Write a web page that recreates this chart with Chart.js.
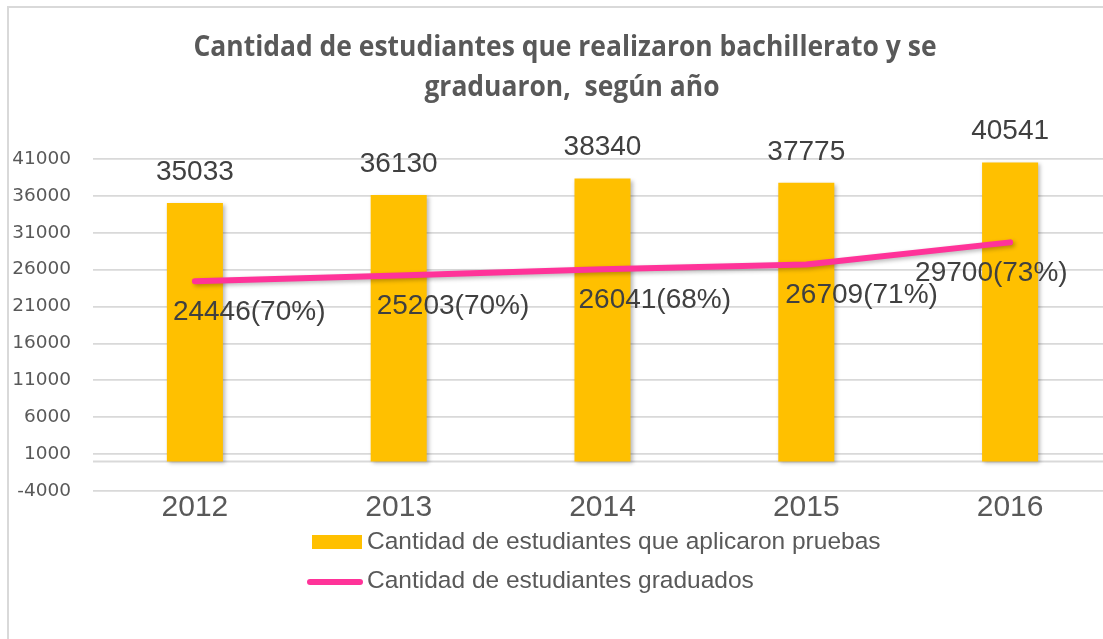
<!DOCTYPE html>
<html><head><meta charset="utf-8">
<script src="https://cdn.jsdelivr.net/npm/chart.js@4.4.1/dist/chart.umd.min.js"></script>
<style>
html,body{margin:0;padding:0;background:#fff;overflow:hidden;width:1103px;height:639px}
#wrap{position:relative;width:1116px;height:639px}
canvas{display:block}
</style></head><body><div id="wrap"><canvas id="c" width="1116" height="639"></canvas></div>
<script>
// ---- data ----
const years = ['2012', '2013', '2014', '2015', '2016'];
const applied = [35033, 36130, 38340, 37775, 40541];
const graduated = [24446, 25203, 26041, 26709, 29700];
const graduatedPct = [70, 70, 68, 71, 73];
const yTickLabels = ['-4000', '1000', '6000', '11000', '16000', '21000', '26000', '31000', '36000', '41000'];
const titleLines = ['Cantidad de estudiantes que realizaron bachillerato y se', 'graduaron,  según año'];
const seriesNames = ['Cantidad de estudiantes que aplicaron pruebas', 'Cantidad de estudiantes graduados'];

// ---- styles ----
const BAR_COLOR = '#FFC000';
const LINE_COLOR = '#FF3399';
const GRID_COLOR = '#D9D9D9';
const TEXT_GRAY = '#595959';
const LABEL_DARK = '#404040';
const lineLabelShiftX = [-22, -22, -24, -21, -95];

function fontExists(name) {
  const c = document.createElement('canvas').getContext('2d');
  const t = 'Cantidad de estudiantes abcxyz 0123';
  c.font = '40px "' + name + '", monospace'; const a = c.measureText(t).width;
  c.font = '40px "' + name + '", serif'; const b = c.measureText(t).width;
  return Math.abs(a - b) < 0.01;
}
const titleFamily = fontExists('Liberation Sans Narrow') ? '"Liberation Sans Narrow"' : '"Open Sans"';

const shadowPlugin = {
  id: 'shadow',
  beforeDatasetDraw(chart) {
    const ctx = chart.ctx;
    ctx.save();
    ctx.shadowColor = 'rgba(0,0,0,0.28)';
    ctx.shadowBlur = 4;
    ctx.shadowOffsetX = 2;
    ctx.shadowOffsetY = 2;
  },
  afterDatasetDraw(chart) { chart.ctx.restore(); }
};

const decorPlugin = {
  id: 'decor',
  beforeDatasetsDraw(chart) {
    const {ctx, chartArea, scales} = chart;
    const y0 = scales.y.getPixelForValue(0);
    ctx.save();
    ctx.strokeStyle = GRID_COLOR;
    ctx.lineWidth = 1.8;
    ctx.beginPath();
    ctx.moveTo(chartArea.left, y0);
    ctx.lineTo(chartArea.right, y0);
    ctx.stroke();
    ctx.restore();
  },
  afterDatasetsDraw(chart) {
    const ctx = chart.ctx;
    const barMeta = chart.getDatasetMeta(0);
    const lineMeta = chart.getDatasetMeta(1);
    ctx.save();
    ctx.font = '28px "Liberation Sans", Arial, sans-serif';
    ctx.fillStyle = LABEL_DARK;
    ctx.textBaseline = 'middle';
    ctx.textAlign = 'center';
    barMeta.data.forEach((el, i) => {
      ctx.fillText(String(applied[i]), el.x, el.y - 31);
    });
    ctx.textAlign = 'left';
    lineMeta.data.forEach((el, i) => {
      ctx.fillText(graduated[i] + '(' + graduatedPct[i] + '%)', el.x + lineLabelShiftX[i], el.y + 31);
    });
    ctx.restore();
  },
  afterDraw(chart) {
    const ctx = chart.ctx;
    ctx.save();
    // frame
    ctx.strokeStyle = GRID_COLOR;
    ctx.lineWidth = 2;
    ctx.beginPath();
    ctx.moveTo(8, 639);
    ctx.lineTo(8, 7);
    ctx.lineTo(1116, 7);
    ctx.stroke();
    // title (horizontally condensed to mimic a narrow bold face)
    ctx.fillStyle = TEXT_GRAY;
    ctx.textAlign = 'center';
    ctx.textBaseline = 'alphabetic';
    const tSize = titleFamily.indexOf('Narrow') >= 0 ? 29 : 28;
    ctx.font = 'bold ' + tSize + 'px ' + titleFamily;
    const w = ctx.measureText(titleLines[0]).width;
    const sx = 743 / w;
    ctx.save();
    ctx.scale(sx, 1);
    ctx.fillText(titleLines[0], 565 / sx, 56);
    ctx.fillText(titleLines[1], 572 / sx, 96);
    ctx.restore();
    // legend
    ctx.fillStyle = BAR_COLOR;
    ctx.fillRect(312, 535, 50, 14);
    ctx.strokeStyle = LINE_COLOR;
    ctx.lineWidth = 6;
    ctx.lineCap = 'round';
    ctx.beginPath();
    ctx.moveTo(310, 582);
    ctx.lineTo(360, 582);
    ctx.stroke();
    ctx.fillStyle = TEXT_GRAY;
    ctx.textAlign = 'left';
    ctx.textBaseline = 'middle';
    ctx.font = '24.5px "Liberation Sans", Arial, sans-serif';
    ctx.fillText(seriesNames[0], 367, 542);
    ctx.fillText(seriesNames[1], 367, 581);
    ctx.restore();
  }
};

new Chart(document.getElementById('c'), {
  type: 'bar',
  data: {
    labels: years,
    datasets: [
      {
        type: 'bar',
        label: seriesNames[0],
        data: applied,
        backgroundColor: BAR_COLOR,
        borderWidth: 0,
        categoryPercentage: 1,
        barPercentage: 0.275,
        order: 1
      },
      {
        type: 'line',
        label: seriesNames[1],
        data: graduated,
        borderColor: LINE_COLOR,
        backgroundColor: LINE_COLOR,
        borderWidth: 6,
        borderCapStyle: 'round',
        borderJoinStyle: 'round',
        pointRadius: 0,
        tension: 0,
        fill: false,
        order: 0
      }
    ]
  },
  options: {
    responsive: false,
    animation: false,
    layout: { padding: { top: 159, right: 4, bottom: 0, left: 0 } },
    plugins: {
      legend: { display: false },
      title: { display: false },
      tooltip: { enabled: false }
    },
    scales: {
      x: {
        grid: { display: false },
        border: { display: false },
        ticks: {
          color: TEXT_GRAY,
          font: { family: '"Liberation Sans", Arial, sans-serif', size: 30 },
          padding: -9
        },
        afterFit(s) { s.height = 148; }
      },
      y: {
        min: -4000,
        max: 41000,
        grid: { color: GRID_COLOR, lineWidth: 1.8, drawTicks: false },
        border: { display: false },
        ticks: {
          stepSize: 5000,
          color: TEXT_GRAY,
          font: { family: '"DejaVu Sans", sans-serif', size: 18.5 },
          padding: 22,
          callback: (v, i) => yTickLabels[i]
        },
        afterFit(s) { s.width = 93; }
      }
    }
  },
  plugins: [shadowPlugin, decorPlugin]
});
</script>
</body></html>
